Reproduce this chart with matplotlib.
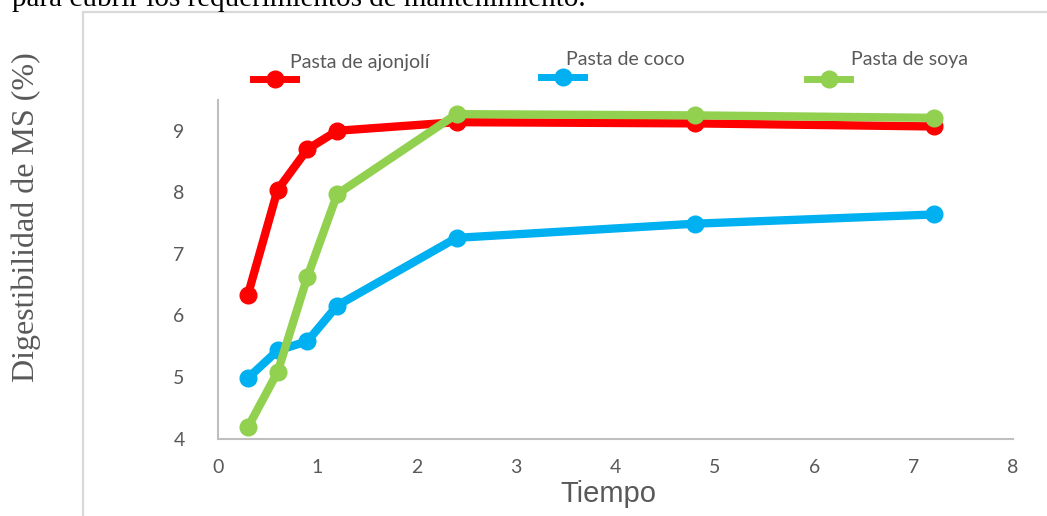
import matplotlib
matplotlib.use("Agg")
import matplotlib.pyplot as plt
from matplotlib.lines import Line2D
from matplotlib.patches import Rectangle

# data
tiempo = [0.3, 0.6, 0.9, 1.2, 2.4, 4.8, 7.2]
ajonjoli = [6.33, 8.04, 8.70, 9.00, 9.14, 9.12, 9.07]
coco = [4.98, 5.43, 5.58, 6.16, 7.26, 7.49, 7.64]
soya = [4.18, 5.08, 6.63, 7.97, 9.27, 9.25, 9.21]

series = ["Pasta de ajonjolí", "Pasta de coco", "Pasta de soya"]
colores = ["#FF0000", "#00B0F0", "#92D050"]
x_ticks = [0, 1, 2, 3, 4, 5, 6, 7, 8]
y_ticks = [4, 5, 6, 7, 8, 9]

W, H = 1047, 516
gris = "#595959"

fig = plt.figure(figsize=(W / 100, H / 100), dpi=100)


def fx(px):
    return px / W


def fy(py):
    return 1 - py / H


# frame of the surrounding document box
fig.patches.append(Rectangle((fx(83), fy(560)), fx(1100), fy(12) - fy(560),
                             transform=fig.transFigure, fill=False,
                             edgecolor="#d9d9d9", linewidth=1.6))

# body text of the page, cut off at the top as in the source
fig.text(fx(12), fy(6), "para cubrir los requerimientos de mantenimiento.",
         family="Liberation Serif", fontsize=21, color="black", va="baseline")

ax = fig.add_axes([fx(218), fy(438.5), fx(1013) - fx(218), fy(100) - fy(438.5)])

for vals, col in zip([ajonjoli, coco, soya], colores):
    ax.plot(tiempo, vals, color=col, linewidth=6, marker="o", markersize=12,
            solid_capstyle="round", solid_joinstyle="round", clip_on=False)

ax.set_xlim(0, 8)
ax.set_ylim(4, 9.5)
ax.set_xticks(x_ticks)
ax.set_yticks(y_ticks)
ax.tick_params(length=0, colors=gris, labelsize=14)
ax.tick_params(axis="y", pad=24)
ax.tick_params(axis="x", pad=15)
for lab in ax.get_xticklabels() + ax.get_yticklabels():
    lab.set_family("Lato")
for s in ["top", "right"]:
    ax.spines[s].set_visible(False)
for s in ["left", "bottom"]:
    ax.spines[s].set_color("#bfbfbf")
    ax.spines[s].set_linewidth(1.5)

fig.text(fx(608), fy(502), "Tiempo", family="Liberation Sans", fontsize=21,
         color=gris, ha="center", va="baseline")
fig.text(fx(26), fy(217), "Digestibilidad de MS (%)", family="Liberation Serif",
         fontsize=23, color=gris, rotation=90, ha="center", va="center")

# legend drawn by hand (text sits above-right of each handle)
leg_line = [(253, 296, 79), (541, 584, 77), (807, 850, 79)]
leg_text = [(290, 68), (566, 65), (851, 65)]
for name, col, (x0, x1, yl), (xt, yt) in zip(series, colores, leg_line, leg_text):
    fig.lines.append(Line2D([fx(x0), fx(x1)], [fy(yl), fy(yl)], transform=fig.transFigure,
                            color=col, linewidth=5))
    fig.lines.append(Line2D([fx((x0 + x1) / 2)], [fy(yl)], transform=fig.transFigure,
                            color=col, marker="o", markersize=12, linestyle="none"))
    fig.text(fx(xt), fy(yt), name, family="Lato", fontsize=14, color=gris, va="baseline")

fig.savefig("out.png", dpi=100)
